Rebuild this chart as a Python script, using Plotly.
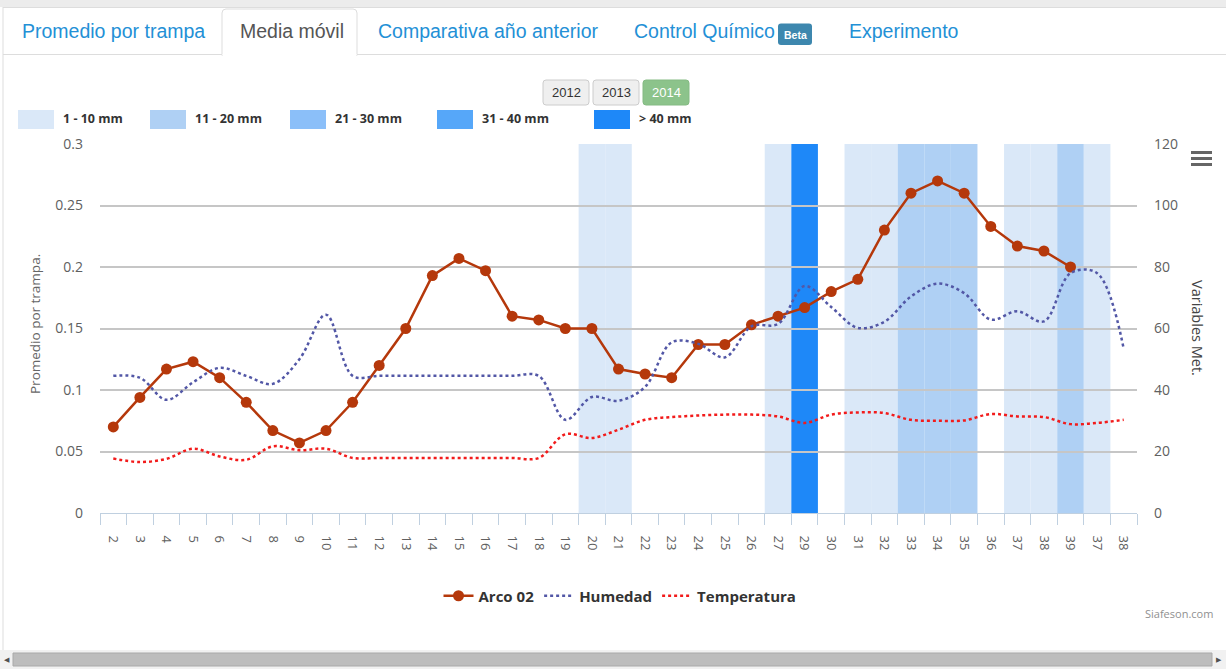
import plotly.graph_objects as go

# ---------------- data ----------------
week_labels = ["2", "3", "4", "5", "6", "7", "8", "9", "10", "11", "12", "13", "14",
               "15", "16", "17", "18", "19", "20", "21", "22", "23", "24", "25", "26",
               "27", "29", "30", "31", "32", "33", "34", "35", "36", "37", "38", "39",
               "37", "38"]

arco_02 = [0.07, 0.094, 0.117, 0.123, 0.11, 0.09, 0.067, 0.057, 0.067, 0.09, 0.12,
           0.15, 0.193, 0.207, 0.197, 0.16, 0.157, 0.15, 0.15, 0.117, 0.113, 0.11,
           0.137, 0.137, 0.153, 0.16, 0.167, 0.18, 0.19, 0.23, 0.26, 0.27, 0.26,
           0.233, 0.217, 0.213, 0.2, None, None]

humedad = [44.6, 44.0, 36.8, 42.5, 47.2, 44.6, 42.0, 50.0, 64.5, 44.6, 44.6, 44.6,
           44.6, 44.6, 44.6, 44.6, 44.6, 30.3, 37.7, 36.5, 41.0, 55.5, 55.0, 50.6,
           60.7, 61.5, 73.8, 67.0, 60.2, 62.2, 70.4, 74.6, 71.5, 62.9, 65.6, 62.3,
           78.0, 78.0, 53.4]

temperatura = [17.7, 16.6, 17.6, 20.9, 18.4, 17.3, 21.7, 20.4, 20.9, 17.9, 17.9, 17.9,
               17.9, 17.9, 17.9, 17.9, 17.9, 25.6, 24.4, 27.1, 30.3, 31.2, 31.7, 32.0,
               32.0, 31.4, 29.3, 32.0, 32.7, 32.5, 30.3, 30.0, 30.1, 32.2, 31.4, 31.2,
               28.9, 29.3, 30.3]

# rain class per week: 0 none, 1 "1 - 10 mm", 2 "11 - 20 mm", 3 "21 - 30 mm", 4 "31 - 40 mm", 5 "> 40 mm"
lluvia_clase = [0, 0, 0, 0, 0, 0, 0, 0, 0, 0, 0, 0, 0, 0, 0, 0, 0, 0, 1, 1, 0, 0, 0, 0,
                0, 1, 5, 0, 1, 1, 2, 2, 2, 0, 1, 1, 2, 1, 0]

lluvia_labels = ["1 - 10 mm", "11 - 20 mm", "21 - 30 mm", "31 - 40 mm", "> 40 mm"]
lluvia_colors = ["#DAE8F8", "#AFD0F4", "#8BBFF9", "#56A7F9", "#1E88F8"]

y_left_ticks = [0, 0.05, 0.1, 0.15, 0.2, 0.25, 0.3]
y_left_text = ["0", "0.05", "0.1", "0.15", "0.2", "0.25", "0.3"]
y_right_ticks = [0, 20, 40, 60, 80, 100, 120]

tabs = ["Promedio por trampa", "Media móvil", "Comparativa año anterior",
        "Control Químico", "Experimento"]
years = ["2012", "2013", "2014"]

# ---------------- geometry helpers ----------------
W, H = 1226, 669
ML, MR, MT, MB = 100, 89, 144, 156
PW = W - ML - MR
PH = H - MT - MB


def px(x):
    return (x - ML) / PW


def py(y):
    return (H - MB - y) / PH


def rrect(x0, y0, x1, y1, r, top_only=False):
    rb = 0 if top_only else r
    pts = (f"M {px(x0 + r)} {py(y0)} L {px(x1 - r)} {py(y0)} "
           f"Q {px(x1)} {py(y0)} {px(x1)} {py(y0 + r)} "
           f"L {px(x1)} {py(y1 - rb)} "
           f"Q {px(x1)} {py(y1)} {px(x1 - rb)} {py(y1)} "
           f"L {px(x0 + rb)} {py(y1)} "
           f"Q {px(x0)} {py(y1)} {px(x0)} {py(y1 - rb)} "
           f"L {px(x0)} {py(y0 + r)} "
           f"Q {px(x0)} {py(y0)} {px(x0 + r)} {py(y0)} Z")
    return pts


ARCO_C = "#B5380B"
HUM_C = "#5257A6"
TEMP_C = "#F21B1B"
FONT = "Open Sans"

idx = list(range(len(week_labels)))

fig = go.Figure()

fig.add_trace(go.Scatter(
    x=idx, y=humedad, name="Humedad", yaxis="y2", mode="lines",
    line=dict(color=HUM_C, width=2.5, dash="dot", shape="spline", smoothing=1.0),
    legendrank=2, hoverinfo="skip"))
fig.add_trace(go.Scatter(
    x=idx, y=temperatura, name="Temperatura", yaxis="y2", mode="lines",
    line=dict(color=TEMP_C, width=2.5, dash="dot", shape="spline", smoothing=1.0),
    legendrank=3, hoverinfo="skip"))
fig.add_trace(go.Scatter(
    x=idx, y=arco_02, name="Arco 02", mode="lines+markers",
    line=dict(color=ARCO_C, width=2.5), marker=dict(color=ARCO_C, size=11),
    legendrank=1, connectgaps=False))

shapes = []
# rain bands (plot bands per week, drawn below gridlines)
for i, c in enumerate(lluvia_clase):
    if c > 0:
        shapes.append(dict(type="rect", xref="x", yref="paper", x0=i - 0.5, x1=i + 0.5,
                           y0=0, y1=1, fillcolor=lluvia_colors[c - 1],
                           line=dict(width=0), layer="below"))

annotations = []

# ---- page chrome: top strip, borders, tabs ----
shapes.append(dict(type="rect", xref="paper", yref="paper", x0=px(0), x1=px(W),
                   y0=py(0), y1=py(7), fillcolor="#ECECEC", line=dict(width=0), layer="above"))
shapes.append(dict(type="line", xref="paper", yref="paper", x0=px(3), x1=px(3),
                   y0=py(7), y1=py(650), line=dict(color="#DDDDDD", width=1), layer="above"))
shapes.append(dict(type="line", xref="paper", yref="paper", x0=px(3), x1=px(W),
                   y0=py(7.5), y1=py(7.5), line=dict(color="#DDDDDD", width=1), layer="above"))
shapes.append(dict(type="line", xref="paper", yref="paper", x0=px(3), x1=px(W),
                   y0=py(54.5), y1=py(54.5), line=dict(color="#DDDDDD", width=1), layer="above"))
shapes.append(dict(type="path", xref="paper", yref="paper",
                   path=rrect(222, 9, 357, 55.5, 4, top_only=True),
                   fillcolor="white", line=dict(color="#DDDDDD", width=1), layer="above"))
shapes.append(dict(type="line", xref="paper", yref="paper", x0=px(222.5), x1=px(356.5),
                   y0=py(55), y1=py(55), line=dict(color="white", width=2), layer="above"))

tab_x = [20, 238, 376, 632, 847]
for t, x in zip(tabs, tab_x):
    annotations.append(dict(text=t, xref="paper", yref="paper", x=px(x), y=py(31.5),
                            xanchor="left", yanchor="middle", showarrow=False,
                            font=dict(family="Liberation Sans", size=19.5,
                                      color="#555555" if t == "Media móvil" else "#2390D6")))
shapes.append(dict(type="path", xref="paper", yref="paper", path=rrect(778, 23.5, 812, 45, 3),
                   fillcolor="#3D87AE", line=dict(width=0), layer="above"))
annotations.append(dict(text="<b>Beta</b>", xref="paper", yref="paper", x=px(795), y=py(34.5),
                        xanchor="center", yanchor="middle", showarrow=False,
                        font=dict(family="Liberation Sans", size=10.5, color="white")))

# year buttons
year_x = [543, 593, 643]
for yr, x in zip(years, year_x):
    active = yr == "2014"
    shapes.append(dict(type="path", xref="paper", yref="paper", path=rrect(x, 80, x + 46, 105, 3),
                       fillcolor="#8CC38B" if active else "#EFEFEF",
                       line=dict(color="#84BA83" if active else "#CCCCCC", width=1), layer="above"))
    annotations.append(dict(text=yr, xref="paper", yref="paper", x=px(x + 23), y=py(92.5),
                            xanchor="center", yanchor="middle", showarrow=False,
                            font=dict(family="Liberation Sans", size=13,
                                      color="white" if active else "#333333")))

# rain legend
sw_x = [18, 150, 290, 437, 594]
for lab, col, x in zip(lluvia_labels, lluvia_colors, sw_x):
    shapes.append(dict(type="rect", xref="paper", yref="paper", x0=px(x), x1=px(x + 36),
                       y0=py(110), y1=py(129), fillcolor=col, line=dict(width=0), layer="above"))
    annotations.append(dict(text=lab, xref="paper", yref="paper", x=px(x + 43), y=py(119),
                            xanchor="left", yanchor="middle", showarrow=False,
                            font=dict(family=FONT, size=12.5, color="#333333", weight="bold")))

# hamburger menu
for yy in [152.5, 158.5, 164.5]:
    shapes.append(dict(type="line", xref="paper", yref="paper", x0=px(1191), x1=px(1212),
                       y0=py(yy), y1=py(yy), line=dict(color="#666666", width=3), layer="above"))

# axis titles
annotations.append(dict(text="Promedio por trampa.", xref="paper", yref="paper", x=px(35),
                        y=py(324), xanchor="center", yanchor="middle", textangle=-90,
                        showarrow=False, font=dict(family=FONT, size=13.5, color="#666666")))
annotations.append(dict(text="Variables Met.", xref="paper", yref="paper", x=px(1198),
                        y=py(328), xanchor="center", yanchor="middle", textangle=90,
                        showarrow=False, font=dict(family=FONT, size=14.5, color="#444444")))

# credits
annotations.append(dict(text="Siafeson.com", xref="paper", yref="paper", x=px(1215), y=py(613),
                        xanchor="right", yanchor="middle", showarrow=False,
                        font=dict(family=FONT, size=11, color="#909090")))

# bottom scrollbar
shapes.append(dict(type="rect", xref="paper", yref="paper", x0=px(0), x1=px(W),
                   y0=py(650), y1=py(H), fillcolor="#F1F1F1", line=dict(width=0), layer="above"))
shapes.append(dict(type="rect", xref="paper", yref="paper", x0=px(13), x1=px(1212),
                   y0=py(653), y1=py(666), fillcolor="#BDBDBD",
                   line=dict(color="#A9A9A9", width=1), layer="above"))
annotations.append(dict(text="◀", xref="paper", yref="paper", x=px(6.5), y=py(659.5),
                        xanchor="center", yanchor="middle", showarrow=False,
                        font=dict(family="DejaVu Sans", size=7, color="#505050")))
annotations.append(dict(text="▶", xref="paper", yref="paper", x=px(1219), y=py(659.5),
                        xanchor="center", yanchor="middle", showarrow=False,
                        font=dict(family="DejaVu Sans", size=7, color="#505050")))

fig.update_layout(
    width=W, height=H,
    margin=dict(l=ML, r=MR, t=MT, b=MB, pad=0),
    paper_bgcolor="white", plot_bgcolor="white",
    font=dict(family=FONT, color="#606060"),
    showlegend=True,
    legend=dict(orientation="h", x=px(620), y=py(596), xanchor="center", yanchor="middle",
                font=dict(family=FONT, size=15, color="#333333", weight="bold"),
                bgcolor="rgba(0,0,0,0)", itemwidth=30, tracegroupgap=0),
    xaxis=dict(range=[-0.5, len(week_labels) - 0.5], tickmode="array", tickvals=idx,
               ticktext=week_labels, tickangle=90, ticks="outside", ticklen=12,
               tickcolor="rgba(0,0,0,0)", ticklabelstandoff=7,
               tickfont=dict(family=FONT, size=13, color="#606060"),
               showline=True, linecolor="#C0D0E0", linewidth=1, showgrid=False,
               zeroline=False, fixedrange=True,
               minor=dict(tickmode="array", tickvals=[i - 0.5 for i in range(len(week_labels) + 1)],
                          ticks="outside", ticklen=11, tickcolor="#C0D0E0", tickwidth=1,
                          showgrid=False)),
    yaxis=dict(range=[0, 0.3], tickmode="array", tickvals=y_left_ticks, ticktext=y_left_text,
               showgrid=True, gridcolor="#C6C6C6", gridwidth=1.5, zeroline=False,
               showline=False, ticks="", ticklabelstandoff=16,
               tickfont=dict(family=FONT, size=14, color="#606060")),
    yaxis2=dict(range=[0, 120], tickmode="array", tickvals=y_right_ticks, overlaying="y",
                side="right", showgrid=False, zeroline=False, showline=False, ticks="",
                ticklabelstandoff=16, tickfont=dict(family=FONT, size=14, color="#606060")),
    shapes=shapes,
    annotations=annotations,
)

fig.write_html("out.html", config={"displayModeBar": False},
               post_script="document.body.style.margin='0px';document.body.style.overflow='hidden';")
